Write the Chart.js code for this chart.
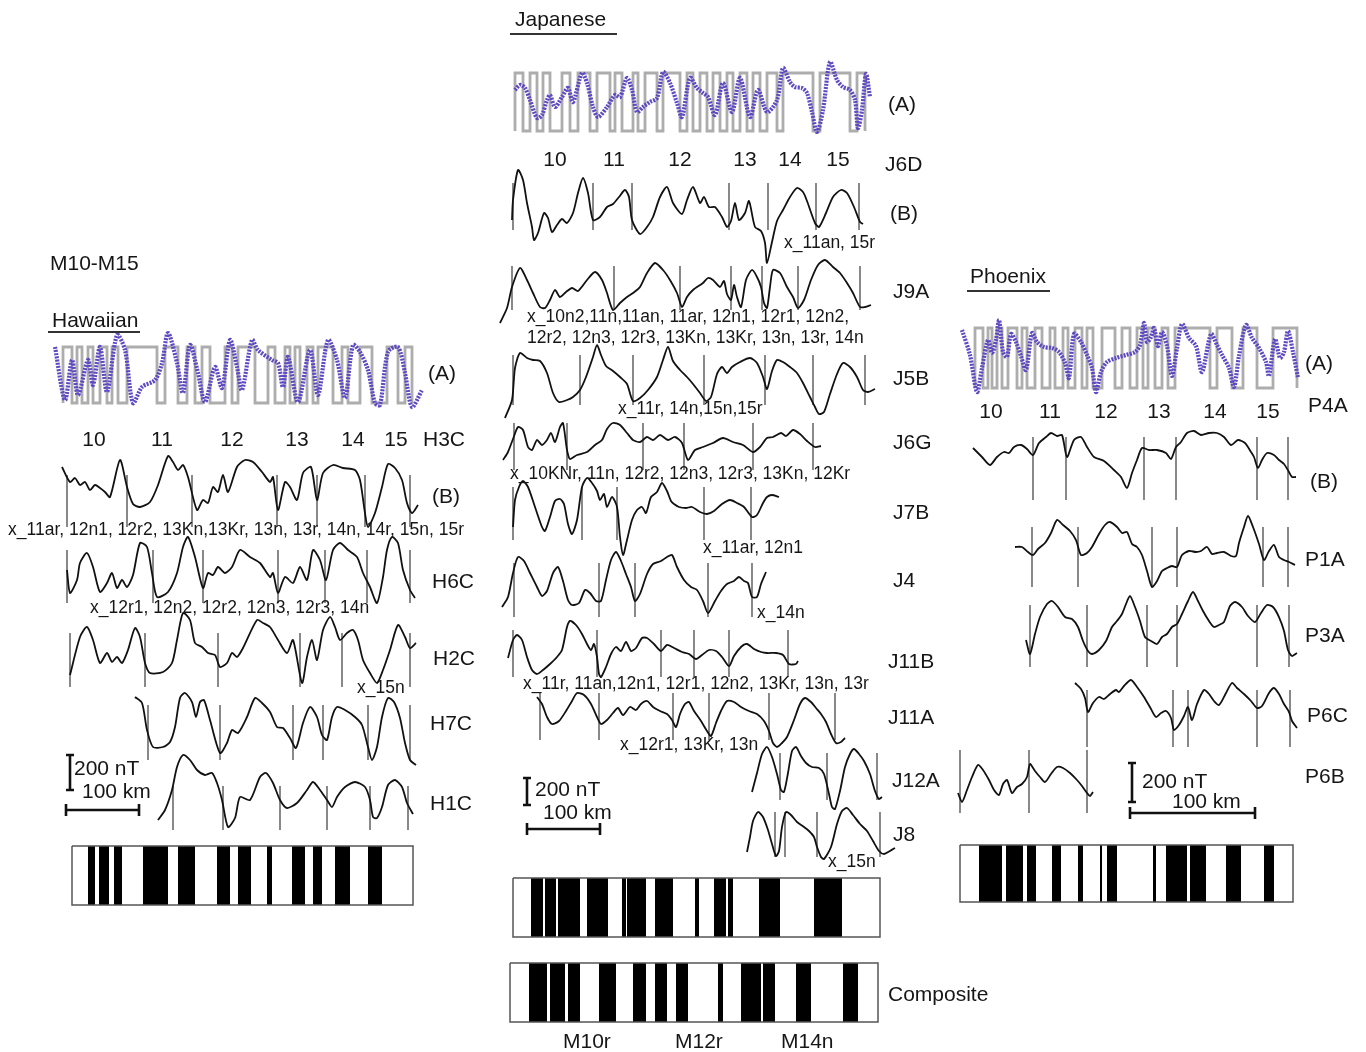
<!DOCTYPE html>
<html>
<head>
<meta charset="utf-8">
<script src="https://cdn.jsdelivr.net/npm/chart.js@4.4.0/dist/chart.umd.min.js"></script>
<style>
  body { margin: 0; background: #fff; }
  #wrap { position: relative; width: 1366px; height: 1052px; overflow: hidden;
          font-family: "Liberation Sans", Arial, sans-serif; color: #161616; }
  canvas { position: absolute; left: 0; top: 0; }
  .t { position: absolute; white-space: nowrap; line-height: 1; font-size: 21px; transform: translateY(-50%); }
  .c { transform: translate(-50%, -50%); }
  .s { font-size: 17.5px; }
  .u { position: absolute; height: 2px; background: #333; }
</style>
</head>
<body>
<div id="wrap"><canvas id="fig" width="1366" height="1052"></canvas></div>
<script>
// profiles are [distance along the section, anomaly] pairs
// distance is counted from the left edge of each panel, anomaly is positive upward

// ---- Hawaiian ----
const hawModelHigh = [[3,12],[17,22],[28,33],[40,47],[52,58],[67,97],[105,118],[127,135],[142,150],[165,172],[178,195],[208,215],[225,230],[235,240],[247,253],[258,273],[282,288],[300,312],[327,338],[345,352]];
const hawModel = [[-5,28],[5,-25],[12,15],[18,-20],[28,15],[33,-10],[40,28],[47,-17],[57,40],[65,25],[73,-28],[82,-12],[95,-5],[102,12],[108,42],[117,12],[123,-18],[130,30],[138,2],[145,-27],[155,8],[162,-13],[170,35],[177,8],[182,-15],[192,35],[198,25],[212,15],[218,12],[223,-12],[228,18],[238,-27],[250,25],[258,-20],[268,35],[277,15],[285,-23],[293,30],[300,23],[308,5],[315,-28],[320,-30],[328,23],[338,28],[345,2],[352,-32],[362,-15]];

const H3C = [[2,23],[10,8],[15,12],[20,5],[25,8],[30,0],[35,5],[40,2],[45,-2],[50,-7],[60,30],[67,3],[73,-14],[80,-17],[90,-12],[98,5],[108,34],[113,28],[118,20],[123,25],[128,13],[137,-20],[143,-10],[148,-13],[153,3],[158,-2],[163,15],[168,-2],[177,23],[185,30],[193,28],[202,18],[210,8],[213,13],[218,-20],[225,8],[230,3],[237,-10],[243,17],[251,23],[257,-10],[263,17],[273,25],[283,22],[295,20],[300,10],[305,-23],[308,-37],[315,-23],[322,3],[328,26],[335,22],[342,10],[347,-13],[352,-23],[358,-15]];
const H3CPicks = [7,67,132,217,257,305,350];

const H6C = [[7,0],[10,-23],[17,-10],[20,7],[27,17],[33,3],[40,-22],[47,-13],[52,-3],[57,-18],[62,-10],[67,-17],[73,-5],[80,27],[87,23],[92,-3],[97,-27],[108,-22],[117,-3],[123,23],[128,33],[135,13],[143,-18],[148,-3],[153,-5],[158,3],[165,-3],[172,3],[180,20],[190,13],[200,7],[210,-7],[213,-3],[218,-23],[225,-7],[233,-13],[240,3],[247,-10],[253,20],[260,10],[266,-10],[273,20],[280,27],[288,20],[297,13],[303,-3],[310,-17],[317,-33],[323,-7],[327,20],[332,33],[338,27],[343,0],[350,-20],[355,-28]];
const H6CPicks = [7,93,143,218,265,307,350];

const H2C = [[10,-25],[20,13],[27,23],[33,10],[40,-13],[47,-3],[52,-12],[57,-7],[62,-13],[68,0],[75,22],[80,13],[85,-13],[90,-23],[103,-22],[112,-13],[117,10],[123,37],[130,30],[135,7],[142,3],[148,-3],[155,-5],[160,-17],[167,-13],[172,-3],[177,-7],[183,2],[197,30],[203,27],[210,23],[218,10],[227,-3],[233,10],[242,-33],[247,-7],[252,10],[257,-10],[263,20],[270,33],[275,23],[280,10],[287,17],[293,20],[298,10],[303,-10],[310,-23],[317,-33],[323,-20],[330,0],[338,25],[345,13],[350,2],[356,7]];
const H2CPicks = [10,85,158,240,282,350];

const H7C = [[75,33],[82,27],[87,0],[93,-17],[103,-17],[110,-12],[115,3],[120,32],[125,37],[132,28],[136,13],[140,28],[144,30],[150,10],[160,-23],[167,-13],[172,0],[178,-3],[187,13],[195,32],[202,27],[210,18],[217,3],[223,2],[230,-8],[236,-18],[243,7],[250,23],[257,13],[262,-5],[267,-10],[272,13],[277,23],[285,20],[295,13],[302,5],[308,-17],[312,-30],[317,-17],[322,13],[328,32],[334,28],[340,12],[345,-13],[350,-30],[356,-35]];
const H7CPicks = [88,160,233,263,308,350];

const H1C = [[98,-20],[105,-10],[112,10],[117,33],[123,45],[130,40],[137,30],[145,25],[152,27],[157,17],[162,0],[168,-27],[175,-18],[180,3],[190,0],[200,23],[206,27],[213,17],[220,0],[227,-8],[237,-3],[247,10],[253,18],[260,10],[267,0],[272,-7],[277,3],[285,13],[295,18],[305,13],[310,0],[313,-17],[317,-18],[322,-7],[328,15],[335,20],[342,13],[347,-3],[353,-14]];
const H1CPicks = [113,163,220,267,310,348];

const hawBlocks = [[28,35],[39,49],[54,62],[83,108],[118,135],[157,170],[178,191],[207,212],[232,245],[253,262],[275,290],[308,322]];

// ---- Japanese ----
const japModelHigh = [[15,23],[30,37],[43,50],[62,70],[78,90],[97,110],[115,122],[133,138],[145,157],[163,180],[187,193],[200,207],[213,220],[227,233],[240,247],[253,260],[267,277],[283,313],[320,350],[357,365]];
const japModel = [[15,12],[20,17],[25,14],[30,2],[37,-16],[42,-13],[47,2],[50,7],[55,-5],[62,5],[68,14],[73,0],[82,29],[87,19],[93,-5],[98,-15],[107,-5],[115,7],[120,5],[127,24],[132,12],[137,-10],[143,-5],[150,0],[157,4],[163,30],[170,19],[177,-1],[182,-15],[190,24],[197,14],[203,9],[208,5],[215,-13],[223,19],[232,-10],[240,24],[250,-15],[258,12],[267,-10],[277,2],[283,34],[290,20],[295,15],[302,14],[307,9],[312,-10],[317,-30],[323,-8],[330,40],[337,22],[343,15],[350,12],[355,2],[358,-26],[362,-8],[366,28],[370,5]];

const J6D = [[12,-15],[13,5],[18,35],[23,25],[27,2],[32,-22],[34,-35],[38,-28],[44,-8],[48,-13],[52,-27],[57,-20],[62,-14],[67,-18],[73,-8],[78,12],[83,27],[88,12],[93,-15],[100,-12],[107,-2],[113,1],[119,8],[125,15],[129,8],[132,-15],[140,-29],[147,-22],[153,-12],[160,8],[167,18],[173,2],[182,-9],[187,5],[193,18],[200,2],[204,8],[209,-2],[215,-2],[222,-12],[227,-22],[231,-16],[235,2],[239,-15],[245,-8],[249,4],[255,-22],[261,-26],[265,-38],[267,-58],[272,-37],[277,-16],[283,-5],[290,8],[297,17],[303,13],[307,4],[315,-18],[319,-22],[326,-8],[333,8],[341,15],[347,12],[354,-2],[360,-17],[363,-19]];
const J6DPicks = [13,93,132,229,268,316,359];

const J9A = [[0,-38],[7,-23],[12,-2],[20,17],[27,5],[33,-8],[40,-22],[45,-23],[50,-15],[55,-5],[60,-12],[66,-7],[72,-3],[78,-6],[87,5],[95,13],[102,5],[107,-8],[113,-25],[120,-18],[127,-12],[133,-8],[140,-2],[147,12],[155,22],[163,15],[170,5],[177,-8],[182,-22],[187,-12],[193,-5],[203,2],[208,7],[213,5],[220,-2],[224,4],[227,-9],[231,-15],[234,0],[237,-12],[241,-22],[246,5],[252,15],[257,8],[261,-2],[264,-18],[267,-23],[270,-2],[273,15],[280,12],[287,-2],[293,-12],[298,-23],[304,-15],[311,5],[318,20],[325,25],[333,18],[340,12],[347,2],[353,-8],[360,-22],[365,-22],[371,-20]];
const J9APicks = [12,114,180,231,262,298,360];

const J5B = [[5,-43],[12,-25],[15,7],[20,22],[27,17],[33,15],[40,14],[47,2],[53,-18],[59,-27],[67,-25],[73,-22],[80,-15],[86,-2],[93,18],[97,30],[101,20],[106,9],[113,4],[120,-2],[127,-9],[133,-26],[140,-23],[148,-15],[157,-2],[163,15],[168,28],[173,14],[180,5],[187,-2],[193,-9],[200,-18],[206,-26],[211,-22],[217,1],[222,8],[227,2],[232,8],[240,13],[250,17],[257,12],[263,-2],[267,-14],[272,4],[277,15],[283,13],[290,8],[297,2],[303,-8],[310,-22],[315,-32],[319,-39],[324,-37],[330,-19],[337,1],[343,12],[350,8],[357,-2],[363,-15],[368,-17],[375,-14]];
const J5BPicks = [13,80,133,204,265,313,365];

const J6G = [[3,-20],[8,-12],[13,1],[18,13],[23,10],[28,-7],[32,-10],[37,0],[42,-5],[47,0],[51,7],[55,-2],[60,13],[63,17],[67,-10],[70,-19],[77,-15],[87,-12],[95,-5],[102,0],[107,11],[113,17],[120,15],[127,7],[133,0],[140,-2],[147,3],[153,0],[160,5],[168,0],[175,3],[182,-3],[188,-20],[195,-10],[203,-7],[213,-3],[223,2],[233,-2],[243,-5],[253,-12],[260,-7],[267,2],[273,3],[281,7],[286,4],[293,10],[300,6],[307,-1],[315,-7],[321,-6]];
const J6GPicks = [14,67,143,184,253,313];

const J7B = [[13,-17],[15,10],[19,23],[23,29],[28,23],[35,3],[42,-17],[45,-21],[50,-7],[55,9],[60,11],[64,6],[68,-14],[72,-24],[77,-10],[82,23],[87,32],[92,27],[97,19],[100,10],[104,16],[107,3],[112,13],[117,3],[120,-27],[123,-45],[127,-30],[132,-10],[137,0],[142,3],[146,-3],[151,13],[157,18],[162,27],[167,19],[171,9],[174,6],[179,3],[186,2],[192,3],[200,-2],[207,-4],[214,-1],[222,6],[230,10],[237,7],[244,3],[252,-7],[257,-5],[263,7],[267,13],[272,15],[279,13]];
const J7BPicks = [13,82,117,204,251];

const J4 = [[2,-17],[8,-7],[13,17],[18,33],[24,29],[30,17],[37,3],[42,-6],[47,-1],[53,17],[58,23],[63,9],[68,-10],[72,-15],[79,-13],[85,0],[90,-3],[96,-11],[101,-11],[106,10],[111,30],[116,38],[121,29],[126,16],[131,3],[135,-11],[140,-4],[147,16],[153,26],[161,29],[167,33],[172,35],[177,23],[184,10],[191,3],[197,0],[203,-11],[208,-23],[215,-11],[221,-1],[227,6],[234,9],[239,13],[244,9],[248,7],[252,-7],[257,-7],[261,6],[266,18]];
const J4Picks = [14,99,135,208,252];

const J11B = [[8,2],[13,20],[17,25],[22,20],[27,3],[32,-10],[37,-14],[43,-10],[50,-4],[57,3],[62,10],[67,33],[70,39],[76,35],[82,26],[87,16],[91,10],[94,16],[97,3],[99,-14],[101,-17],[106,-7],[111,6],[116,13],[121,9],[126,18],[131,9],[136,12],[142,22],[147,22],[154,16],[161,9],[167,15],[174,12],[182,8],[189,6],[196,1],[202,5],[209,10],[216,9],[222,3],[229,-6],[234,4],[241,13],[247,16],[254,11],[261,8],[267,7],[276,7],[283,5],[289,-4],[296,-4],[298,-1]];
const J11BPicks = [13,97,161,194,229,288];

const J11A = [[37,18],[42,11],[47,-2],[52,-9],[59,-6],[66,4],[72,14],[77,22],[84,20],[91,11],[97,-2],[101,-9],[107,-5],[113,2],[118,7],[123,0],[130,8],[136,5],[141,11],[147,14],[153,8],[160,4],[167,1],[172,-5],[176,-12],[180,1],[185,11],[189,13],[194,4],[201,-6],[207,-16],[211,-21],[216,-8],[221,4],[227,14],[234,13],[241,8],[249,4],[257,1],[264,-6],[269,-16],[273,-28],[277,-32],[282,-28],[287,-22],[294,-5],[300,11],[305,17],[311,13],[316,7],[321,1],[326,-7],[331,-19],[336,-28],[341,-27],[345,-23]];
const J11APicks = [40,99,173,209,269,335];

const J12A = [[252,-17],[257,2],[262,21],[267,28],[272,18],[277,1],[281,-15],[284,-17],[288,2],[292,24],[296,28],[301,19],[306,12],[312,8],[319,7],[324,1],[329,-19],[332,-32],[335,-34],[340,-16],[345,8],[350,21],[354,26],[359,21],[364,14],[370,1],[375,-16],[379,-24],[382,-22]];
const J12APicks = [280,327,377];

const J8 = [[247,-22],[250,-7],[253,9],[258,18],[263,13],[268,0],[272,-14],[276,-26],[279,-21],[282,3],[286,18],[291,15],[297,8],[304,3],[309,-1],[314,-7],[317,-17],[321,-27],[324,-29],[331,-17],[337,6],[342,19],[347,22],[353,15],[360,6],[367,-1],[373,-11],[379,-21],[384,-24],[390,-21],[395,-18]];
const J8Picks = [275,285,317,380];

const japBlocks = [[31,43],[45,56],[58,80],[87,108],[122,126],[127,146],[155,173],[195,199],[214,226],[228,233],[259,280],[314,342]];
const compositeBlocks = [[29,47],[50,65],[68,80],[99,116],[133,146],[155,167],[176,188],[218,223],[241,261],[263,275],[296,311],[343,358]];

// ---- Phoenix ----
const phoModelHigh = [[25,33],[38,42],[47,52],[58,67],[72,77],[85,92],[100,105],[113,118],[125,132],[137,143],[152,165],[172,180],[187,193],[198,205],[212,218],[225,260],[267,282],[293,307],[323,347]];
const phoModel = [[12,28],[20,3],[27,-34],[32,-10],[38,18],[42,5],[46,18],[49,38],[53,6],[57,1],[61,24],[66,16],[71,2],[76,-12],[82,25],[87,16],[94,11],[102,10],[109,6],[115,-5],[119,-20],[124,24],[131,16],[137,3],[142,-10],[146,-34],[151,-14],[157,-4],[166,0],[176,3],[185,6],[190,13],[194,35],[197,16],[201,21],[204,30],[208,12],[212,26],[217,12],[222,-18],[227,10],[232,34],[239,20],[246,12],[252,-14],[261,24],[267,13],[272,3],[279,-10],[284,-29],[289,2],[296,33],[302,20],[309,10],[316,-4],[319,-18],[325,19],[330,0],[334,6],[338,27],[343,6],[348,-20]];

const P4A = [[23,7],[32,-2],[40,-10],[47,-2],[54,3],[59,2],[64,8],[71,10],[77,6],[83,0],[89,12],[96,18],[101,22],[107,19],[112,20],[117,-2],[124,15],[131,18],[137,8],[144,-2],[154,-6],[164,-15],[171,-22],[177,-33],[182,-18],[187,-5],[192,7],[199,5],[207,5],[216,2],[221,-4],[226,8],[231,13],[237,22],[244,24],[251,20],[259,22],[267,22],[274,18],[281,10],[288,15],[295,12],[301,3],[304,-2],[308,-13],[312,-5],[317,2],[324,0],[329,-5],[334,-9],[339,-17],[342,-22],[346,-22]];
const P4APicks = [83,116,194,226,307,338];

const P1A = [[65,8],[72,8],[78,3],[83,0],[88,6],[95,12],[101,22],[107,35],[113,30],[120,24],[126,15],[131,0],[137,2],[142,8],[149,21],[155,30],[160,33],[167,28],[172,22],[177,23],[182,11],[187,8],[192,0],[197,-16],[202,-32],[207,-26],[212,-16],[217,-13],[222,-11],[227,-12],[232,0],[239,4],[246,3],[251,4],[257,8],[262,1],[267,2],[274,3],[281,-1],[286,-1],[289,12],[294,28],[298,39],[303,28],[309,11],[314,-5],[319,4],[324,10],[329,-2],[334,-5],[339,-7],[345,-10]];
const P1APicks = [82,128,202,227,313,338];

const P3A = [[76,-10],[80,-24],[85,-4],[90,13],[97,26],[102,29],[108,23],[115,13],[122,11],[128,3],[133,-11],[138,-21],[142,-24],[149,-20],[156,-11],[162,3],[167,9],[172,16],[176,26],[180,34],[185,23],[190,9],[195,-7],[201,-11],[207,-14],[212,-7],[217,-4],[222,3],[227,6],[232,16],[238,29],[243,38],[248,29],[253,19],[259,9],[264,3],[269,5],[274,8],[280,24],[285,28],[292,23],[298,14],[305,8],[311,17],[317,25],[323,23],[329,13],[334,-1],[338,-20],[342,-26],[347,-23]];
const P3APicks = [80,137,197,227,307,339];

const P6C = [[125,27],[131,21],[135,12],[138,-2],[143,7],[149,13],[154,11],[160,16],[166,20],[169,18],[174,24],[181,30],[187,23],[194,13],[201,1],[206,-7],[211,-3],[216,-1],[221,-8],[224,-20],[229,-15],[234,-6],[238,3],[242,-10],[247,6],[254,20],[259,16],[264,9],[269,5],[276,17],[282,27],[287,22],[294,16],[301,9],[307,2],[312,4],[319,17],[324,22],[329,16],[334,6],[339,-2],[342,-11],[347,-18]];
const P6CPicks = [137,223,238,307,340];

const P6B = [[8,-13],[12,-22],[17,-10],[22,3],[28,15],[33,10],[39,0],[44,-10],[49,-15],[53,-4],[57,0],[62,-13],[67,-7],[72,-4],[77,3],[80,16],[85,9],[90,3],[95,-2],[101,6],[107,13],[113,12],[120,7],[127,0],[132,-6],[137,-13],[140,-16],[143,-12]];
const P6BPicks = [10,79,137];

const phoBlocks = [[29,52],[56,73],[77,86],[102,111],[128,133],[150,152],[157,167],[203,206],[216,237],[240,256],[276,291],[314,324]];

// ---- layout ----
const panelLeft = { haw: 60, jap: 500, pho: 950 };

const models = [
  { panel: 'haw', high: hawModelHigh, curve: hawModel, base: 375, amp: 28 },
  { panel: 'jap', high: japModelHigh, curve: japModel, base: 102, amp: 29 },
  { panel: 'pho', high: phoModelHigh, curve: phoModel, base: 358, amp: 30 },
];

const profiles = [
  { panel: 'haw', data: H3C, picks: H3CPicks, base: 490, span: [15, -37] },
  { panel: 'haw', data: H6C, picks: H6CPicks, base: 570, span: [20, -33] },
  { panel: 'haw', data: H2C, picks: H2CPicks, base: 650, span: [17, -37] },
  { panel: 'haw', data: H7C, picks: H7CPicks, base: 730, span: [25, -30] },
  { panel: 'haw', data: H1C, picks: H1CPicks, base: 800, span: [14, -30] },
  { panel: 'jap', data: J6D, picks: J6DPicks, base: 205, span: [22, -25] },
  { panel: 'jap', data: J9A, picks: J9APicks, base: 285, span: [19, -25] },
  { panel: 'jap', data: J5B, picks: J5BPicks, base: 375, span: [20, -30] },
  { panel: 'jap', data: J6G, picks: J6GPicks, base: 440, span: [17, -30] },
  { panel: 'jap', data: J7B, picks: J7BPicks, base: 510, span: [23, -30] },
  { panel: 'jap', data: J4, picks: J4Picks, base: 590, span: [27, -27] },
  { panel: 'jap', data: J11B, picks: J11BPicks, base: 660, span: [30, -17] },
  { panel: 'jap', data: J11A, picks: J11APicks, base: 715, span: [22, -25] },
  { panel: 'jap', data: J12A, picks: J12APicks, base: 775, span: [22, -25] },
  { panel: 'jap', data: J8, picks: J8Picks, base: 830, span: [18, -27] },
  { panel: 'pho', data: P4A, picks: P4APicks, base: 455, span: [18, -45] },
  { panel: 'pho', data: P1A, picks: P1APicks, base: 555, span: [28, -32] },
  { panel: 'pho', data: P3A, picks: P3APicks, base: 630, span: [25, -37] },
  { panel: 'pho', data: P6C, picks: P6CPicks, base: 710, span: [20, -37] },
  { panel: 'pho', data: P6B, picks: P6BPicks, base: 780, span: [30, -33] },
];

const polarityBars = [
  { panel: 'haw', blocks: hawBlocks, top: 846, bottom: 905, from: 12, to: 353 },
  { panel: 'jap', blocks: japBlocks, top: 878, bottom: 937, from: 13, to: 380 },
  { panel: 'jap', blocks: compositeBlocks, top: 963, bottom: 1022, from: 10, to: 378 },
  { panel: 'pho', blocks: phoBlocks, top: 845, bottom: 902, from: 10, to: 343 },
];

// 200 nT and 100 km bars, lengths in figure units of each panel
const scaleBars = [
  { panel: 'haw', d: 10, top: 755, nT: 35, barY: 810, from: 6, km: 73 },
  { panel: 'jap', d: 27, top: 778, nT: 27, barY: 829, from: 27, km: 73 },
  { panel: 'pho', d: 182, top: 763, nT: 39, barY: 813, from: 180, km: 125 },
];

const labels = [
  ['M10-M15', 50, 262], ['Hawaiian', 52, 319], ['(A)', 428, 372], ['H3C', 423, 438],
  ['(B)', 432, 495], ['H6C', 432, 580], ['H2C', 433, 657], ['H7C', 430, 722], ['H1C', 430, 802],
  ['200 nT', 74, 767], ['100 km', 82, 790],
  ['Japanese', 515, 18], ['(A)', 888, 103], ['J6D', 885, 163], ['(B)', 890, 212], ['J9A', 893, 290],
  ['J5B', 893, 377], ['J6G', 893, 441], ['J7B', 893, 511], ['J4', 893, 579], ['J11B', 888, 660],
  ['J11A', 888, 716], ['J12A', 892, 779], ['J8', 893, 833], ['200 nT', 535, 788], ['100 km', 543, 811],
  ['Composite', 888, 993], ['M10r', 563, 1040], ['M12r', 675, 1040], ['M14n', 781, 1040],
  ['Phoenix', 970, 275], ['(A)', 1305, 362], ['P4A', 1308, 404], ['(B)', 1310, 480], ['P1A', 1305, 558],
  ['P3A', 1305, 634], ['P6C', 1307, 714], ['P6B', 1305, 775], ['200 nT', 1142, 780], ['100 km', 1172, 800],
];

const chronLabels = [
  ['10', 94, 438], ['11', 162, 438], ['12', 232, 438], ['13', 297, 438], ['14', 353, 438], ['15', 396, 438],
  ['10', 555, 158], ['11', 614, 158], ['12', 680, 158], ['13', 745, 158], ['14', 790, 158], ['15', 838, 158],
  ['10', 991, 410], ['11', 1050, 410], ['12', 1106, 410], ['13', 1159, 410], ['14', 1215, 410], ['15', 1268, 410],
];

const notes = [
  ['x_11ar, 12n1, 12r2, 13Kn,13Kr, 13n, 13r, 14n, 14r, 15n, 15r', 8, 530],
  ['x_12r1, 12n2, 12r2, 12n3, 12r3, 14n', 90, 608],
  ['x_15n', 357, 688],
  ['x_11an, 15r', 784, 243],
  ['x_10n2,11n,11an, 11ar, 12n1, 12r1, 12n2,', 527, 317],
  ['12r2, 12n3, 12r3, 13Kn, 13Kr, 13n, 13r, 14n', 527, 338],
  ['x_11r, 14n,15n,15r', 618, 409],
  ['x_10KNr, 11n, 12r2, 12n3, 12r3, 13Kn, 12Kr', 510, 474],
  ['x_11ar, 12n1', 703, 548],
  ['x_14n', 757, 613],
  ['x_11r, 11an,12n1, 12r1, 12n2, 13Kr, 13n, 13r', 523, 684],
  ['x_12r1, 13Kr, 13n', 620, 745],
  ['x_15n', 828, 862],
];

const underlines = [[48, 331, 92], [510, 33, 107], [967, 290, 83]];

// ---- build datasets ----
const X = (panel, d) => panelLeft[panel] + d;

const lineSet = (points, style) => Object.assign({
  data: points, pointRadius: 0, tension: 0, borderWidth: 1.5, borderColor: '#111', fill: false, spanGaps: false,
}, style);

const datasets = [];

models.forEach((m) => {
  const hi = m.base - m.amp;
  const lo = m.base + m.amp;
  const wave = [];
  m.high.forEach(([a, b]) => {
    wave.push({ x: X(m.panel, a), y: lo }, { x: X(m.panel, a), y: hi },
      { x: X(m.panel, b), y: hi }, { x: X(m.panel, b), y: lo });
  });
  datasets.push(lineSet(wave, { borderColor: '#adadad', borderWidth: 2.8, borderJoinStyle: 'miter', order: 3 }));
  datasets.push(lineSet(m.curve.map(([d, v]) => ({ x: X(m.panel, d), y: m.base - v })), {
    borderColor: '#5e48c4', borderWidth: 4.2, borderDash: [2, 1.2], tension: 0.3, order: 0,
  }));
});

profiles.forEach((p) => {
  datasets.push(lineSet(p.data.map(([d, v]) => ({ x: X(p.panel, d), y: p.base - v })), {
    borderColor: '#111', borderWidth: 1.8, tension: 0.25, order: 1,
  }));
  const ticks = [];
  p.picks.forEach((d) => {
    const x = X(p.panel, d);
    ticks.push({ x, y: p.base - p.span[0] }, { x, y: p.base - p.span[1] }, { x, y: null });
  });
  datasets.push(lineSet(ticks, { borderColor: '#4a4a4a', borderWidth: 1.3, order: 2 }));
});

polarityBars.forEach((b) => {
  const mid = (b.top + b.bottom) / 2;
  const blk = [];
  b.blocks.forEach(([a, c]) => {
    blk.push({ x: X(b.panel, a), y: mid }, { x: X(b.panel, c), y: mid }, { x: X(b.panel, c), y: null });
  });
  datasets.push(lineSet(blk, { borderColor: '#000', borderWidth: b.bottom - b.top, borderCapStyle: 'butt', order: 2 }));
  const l = X(b.panel, b.from);
  const r = X(b.panel, b.to);
  datasets.push(lineSet([{ x: l, y: b.top }, { x: r, y: b.top }, { x: r, y: b.bottom }, { x: l, y: b.bottom }, { x: l, y: b.top }],
    { borderColor: '#555', borderWidth: 1.5, order: 1 }));
});

scaleBars.forEach((s) => {
  const x = X(s.panel, s.d);
  const bot = s.top + s.nT;
  const x0 = X(s.panel, s.from);
  const x1 = x0 + s.km;
  const pts = [
    { x: x - 4, y: s.top }, { x: x + 4, y: s.top }, { x, y: null },
    { x, y: s.top }, { x, y: bot }, { x, y: null },
    { x: x - 4, y: bot }, { x: x + 4, y: bot }, { x, y: null },
    { x: x0, y: s.barY - 6 }, { x: x0, y: s.barY + 6 }, { x: x0, y: null },
    { x: x0, y: s.barY }, { x: x1, y: s.barY }, { x: x1, y: null },
    { x: x1, y: s.barY - 6 }, { x: x1, y: s.barY + 6 },
  ];
  datasets.push(lineSet(pts, { borderColor: '#111', borderWidth: 2.6, borderCapStyle: 'butt', order: 1 }));
});

new Chart(document.getElementById('fig'), {
  type: 'line',
  data: { datasets },
  options: {
    responsive: false,
    animation: false,
    devicePixelRatio: 1,
    events: [],
    layout: { padding: 0 },
    plugins: { legend: { display: false }, tooltip: { enabled: false } },
    scales: {
      x: { type: 'linear', min: 0, max: 1366, display: false },
      y: { type: 'linear', min: 0, max: 1052, reverse: true, display: false },
    },
  },
});

// ---- text ----
const wrap = document.getElementById('wrap');
const addText = (text, x, y, cls) => {
  const el = document.createElement('div');
  el.className = 't ' + cls;
  el.textContent = text;
  el.style.left = x + 'px';
  el.style.top = y + 'px';
  wrap.appendChild(el);
};
labels.forEach(([t, x, y]) => addText(t, x, y, ''));
chronLabels.forEach(([t, x, y]) => addText(t, x, y, 'c'));
notes.forEach(([t, x, y]) => addText(t, x, y, 's'));
underlines.forEach(([x, y, w]) => {
  const el = document.createElement('div');
  el.className = 'u';
  el.style.left = x + 'px';
  el.style.top = y + 'px';
  el.style.width = w + 'px';
  wrap.appendChild(el);
});
</script>
</body>
</html>
